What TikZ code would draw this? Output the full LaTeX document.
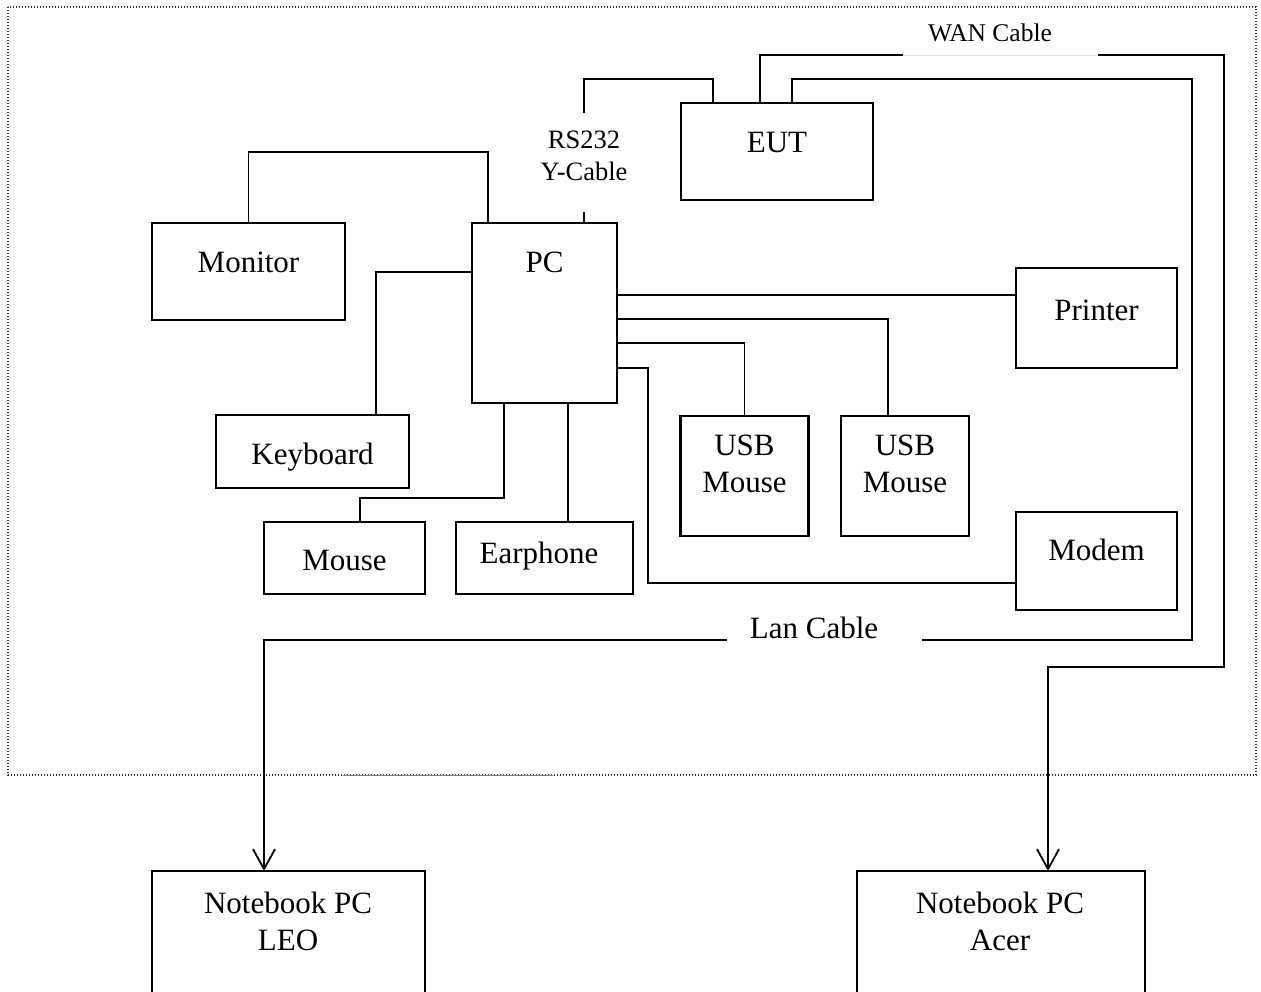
\documentclass[tikz,border=0pt]{standalone}
\usepackage{fontspec}
\setmainfont{Liberation Serif}
\usetikzlibrary{arrows.meta}

\begin{document}
\begin{tikzpicture}[x=1pt, y=-1pt,
    devbox/.style={draw, line width=2.2pt, inner sep=0pt, outer sep=0pt},
    lbl/.style={font=\fontsize{31}{37}\selectfont, inner sep=0pt, text height=20.5pt, text depth=0pt},
    lbltwo/.style={font=\fontsize{31}{37}\selectfont, inner sep=0pt, align=center},
    small/.style={font=\fontsize{26.5}{32}\selectfont, inner sep=0pt, align=center},
    cable/.style={line width=1.8pt},
    border/.style={black!80, line width=1.3pt, dash pattern=on 1.4pt off 1.6pt},
    >={Straight Barb[length=20pt, width=22pt]}]
    \clip (0,0) rectangle (1261,991);
    % Test setup frame
    \draw[border] (8,7) rectangle (1256,775);
    \draw[gray, line width=1pt] (343,775) -- (553,775);

    % Devices
    \node[devbox, minimum width=193pt, minimum height=97pt] (monitor) at (248.5,271.5) {};
    \node[lbl] (monitortxt) at (248.5,262) {Monitor};
    \node[devbox, minimum width=145pt, minimum height=180pt] (pc) at (544.5,313) {};
    \node[lbl] (pctxt) at (544.5,262) {PC};
    \node[devbox, minimum width=192pt, minimum height=97pt] (eut) at (777,151.5) {};
    \node[lbl] (euttxt) at (777,142) {EUT};
    \node[devbox, minimum width=193pt, minimum height=73pt] (keyboard) at (312.5,451.5) {};
    \node[lbl] (keyboardtxt) at (312.5,454) {Keyboard};
    \node[devbox, minimum width=161pt, minimum height=72pt] (mouse) at (344.5,558) {};
    \node[lbl] (mousetxt) at (344.5,560) {Mouse};
    \node[devbox, minimum width=177pt, minimum height=72pt] (earphone) at (544.5,558) {};
    \node[lbl] (earphonetxt) at (539,553) {Earphone};
    \foreach \n/\x in {usba/744.5, usbb/905} {
        \node[devbox, minimum width=128pt, minimum height=120pt] (\n) at (\x,476) {};
        \node[lbltwo] (\n txt) at (\x,464) {USB\\Mouse};
    }
    \node[devbox, minimum width=161pt, minimum height=100pt] (printer) at (1096.5,318) {};
    \node[lbl] (printertxt) at (1096.5,310) {Printer};
    \node[devbox, minimum width=161pt, minimum height=98pt] (modem) at (1096.5,561) {};
    \node[lbl] (modemtxt) at (1096.5,550) {Modem};

    % Notebooks outside the frame
    \node[devbox, minimum width=273pt, minimum height=140pt] (leo) at (288.5,941) {};
    \node[lbltwo] (leotxt) at (288,921) {Notebook PC\\LEO};
    \node[devbox, minimum width=288pt, minimum height=140pt] (acer) at (1001,941) {};
    \node[lbltwo] (acertxt) at (1000,921) {Notebook PC\\Acer};

    % Cable labels
    \node[small] (rstxt) at (584,155.6) {RS232\\Y-Cable};
    \node[font=\fontsize{25.5}{30}\selectfont, inner sep=0pt, text height=16.8pt, text depth=0pt] (wantxt) at (990,33) {WAN Cable};
    \node[lbl] (lantxt) at (814,628) {Lan Cable};

    % PC cables
    \draw[cable] (monitor.north) -- ++(0,-71) -| (pc.north -| 488,0);
    \draw[cable] (pc.west |- 0,272) -| (keyboard.north -| 376,0);
    \draw[cable] (pc.south -| 504,0) -- ++(0,95) -| (mouse.north -| 360,0);
    \draw[cable] (pc.south -| 568,0) -- (earphone.north -| 568,0);
    \draw[cable] (pc.east |- 0,295) -- (printer.west |- 0,295);
    \draw[cable] (pc.east |- 0,319) -| (usbb.north -| 888,0);
    \draw[cable] (pc.east |- 0,343) -| (usba.north);
    \draw[cable] (pc.east |- 0,368) -| (648,583) -- (modem.west |- 0,583);

    % RS232 Y-cable
    \coordinate (rsbot) at (584,212);
    \coordinate (rstop) at (584,113);
    \draw[cable] (pc.north -| rsbot) -- (rsbot);
    \draw[cable] (rstop) |- (713,79) -- (eut.north -| 713,0);

    % WAN cable
    \coordinate (wanl) at (903,55);
    \coordinate (wanr) at (1098,55);
    \draw[cable] (eut.north -| 760,0) |- (wanl);
    \draw[gray!25, line width=0.8pt] (wanl) -- (wanr);
    \draw[cable, ->] (wanr) -| (1224,667) -| (acer.north -| 1048,0);

    % Lan cable
    \coordinate (lanr) at (922,640);
    \coordinate (lanl) at (727,640);
    \draw[cable] (eut.north -| 792,0) |- (1192,79) |- (lanr);
    \draw[cable, ->] (lanl) -| (leo.north -| 264,0);
\end{tikzpicture}
\end{document}
